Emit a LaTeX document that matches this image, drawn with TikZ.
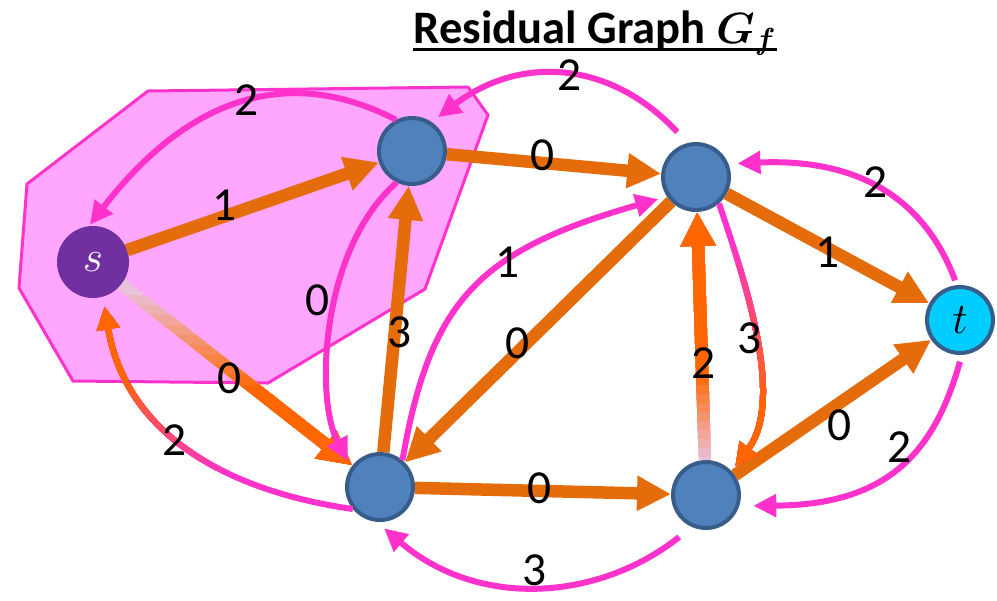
\documentclass[tikz,border=0pt]{standalone}
\usepackage{amsmath}
\usepackage{fontspec}
\setmainfont{Carlito}
\usetikzlibrary{arrows.meta}
\definecolor{flowor}{HTML}{E46C0A}
\definecolor{hotor}{HTML}{FF6600}
\definecolor{backpk}{HTML}{FF33CC}
\definecolor{paleline}{HTML}{E9C2DC}
\definecolor{vblue}{HTML}{4F81BD}
\definecolor{vedge}{HTML}{385D8A}
\definecolor{spurple}{HTML}{7030A0}
\definecolor{tcyan}{HTML}{00CCFF}
\definecolor{cutfill}{HTML}{FFA6FF}
\tikzset{
  > = {Triangle[length = 0.68cm, width = 0.66cm]},
  flow/.style = {->, draw = flowor, line width = 0.25cm},
  back/.style = {-{Triangle[length = 0.46cm, width = 0.44cm]}, draw = backpk, line width = 0.12cm},
  vertex/.style = {circle, draw = vedge, line width = 0.08cm, fill = vblue, minimum size = 1.32cm, inner sep = 0pt},
  weight/.style = {font = \fontsize{27}{27}\selectfont, inner sep = 0pt},
  title/.style = {font = \fontsize{26.5}{26.5}\selectfont\bfseries, inner sep = 0pt, anchor = base},
}

\begin{document}
\begin{tikzpicture}[x = 0.02cm, y = -0.02cm]
  \useasboundingbox (0,0) rectangle (997,600);
  % cut
  \draw [draw = backpk, line width = 0.06cm, fill = cutfill] (148,91) -- (468,87) -- (488,115) -- (425,289)
    -- (268,383) -- (73,381) -- (19,288) -- (27,184) -- cycle;
  % nodes
  \node [vertex, fill = spurple, draw = none, outer sep = 0pt, minimum size = 1.44cm, text = white,
    font = \fontsize{30}{30}\selectfont] (s) at (93,262) {$s$};
  \node [vertex] (a) at (412,151) {};
  \node [vertex] (b) at (696,177) {};
  \node [vertex] (c) at (380,487) {};
  \node [vertex] (d) at (706,495) {};
  \node [vertex, fill = tcyan, font = \fontsize{28}{28}\selectfont] (t) at (960,320) {$t$};
  \node [title] (title) at (595,43) {Residual Graph $\boldsymbol{G_f}$};
  \draw [line width = 0.06cm] ([yshift = -0.12cm] title.base west) -- ([yshift = -0.12cm] title.base east);
  % forward edges
  \draw [flow] (s) -- (a);
  \draw [flow] (a) -- (b);
  \draw [flow] (b) -- (t);
  \draw [flow] (c) -- (a);
  \draw [flow] (b) -- (c);
  \draw [flow] (c) -- (d);
  \draw [flow] (d) -- (t);
  \draw [flow, draw = paleline] (s) -- (c);
  \foreach \k in {1,...,10} {
    \begin{scope}
      \clip (0,{285+10*\k}) rectangle (997,600);
      \draw [flow, draw = hotor!\k0!paleline] (s) -- (c);
    \end{scope}
  }
  \draw [flow, draw = paleline] (d) -- (b);
  \foreach \k in {1,...,10} {
    \begin{scope}
      \clip (0,{465-9*\k}) rectangle (997,0);
      \draw [flow, draw = hotor!\k0!paleline] (d) -- (b);
    \end{scope}
  }
  % backward edges
  \draw [back, shorten >= 0.04cm] (a.117) .. controls (300,70) and (198,85) .. (s.97);
  \draw [back, shorten <= 0.3cm, shorten >= 0.16cm] (b.104) .. controls (610,60) and (520,55) .. (a.56);
  \draw [back, shorten <= 0.1cm, shorten >= 0.18cm] (t.95) .. controls (925,200) and (860,158) .. (b.22);
  \draw [back, shorten >= 0.14cm] (a.244) .. controls (320,250) and (315,400) .. (c.145);
  \draw [back, shorten >= 0.18cm] (c.50) .. controls (430,300) and (480,250) .. (b.214);
  \draw [back, shorten <= 0.14cm, shorten >= 0.28cm] (t.-87) .. controls (935,450) and (890,505) .. (d.-18);
  \draw [back, shorten <= 0.32cm, shorten >= 0.2cm] (d.246) .. controls (600,600) and (480,610) .. (c.264);
  \draw [back, shorten >= 0.12cm] (b.-49) .. controls (745,280) and (785,400) .. (d.43);
  \foreach \k in {1,...,10} {
    \begin{scope}
      \clip (0,{230+17*\k}) rectangle (997,600);
      \draw [back, draw = hotor!\k0!backpk, shorten >= 0.12cm] (b.-49) .. controls (745,280) and (785,400) .. (d.43);
    \end{scope}
  }
  \draw [back, shorten >= 0.2cm] (c.219) .. controls (220,490) and (125,430) .. (s.286);
  \foreach \k in {1,...,10} {
    \begin{scope}
      \clip (0,{480-10*\k}) rectangle (997,0);
      \draw [back, draw = hotor!\k0!backpk, shorten >= 0.2cm] (c.219) .. controls (220,490) and (125,430) .. (s.286);
    \end{scope}
  }
  % weights
  \node [weight] (wsa) at (225,205) {1};
  \node [weight] (wab) at (543,155) {0};
  \node [weight] (wbt) at (828,252) {1};
  \node [weight] (wca) at (400,332) {3};
  \node [weight] (wbc) at (518,343) {0};
  \node [weight] (wsc) at (230,378) {0};
  \node [weight] (wcd) at (540,488) {0};
  \node [weight] (wdt) at (840,425) {0};
  \node [weight] (wdb) at (704,363) {2};
  \node [weight] (was) at (247,100) {2};
  \node [weight] (wba) at (570,75) {2};
  \node [weight] (wtb) at (876,182) {2};
  \node [weight] (wac) at (318,300) {0};
  \node [weight] (wcb) at (508,262) {1};
  \node [weight] (wbd) at (750,338) {3};
  \node [weight] (wtd) at (900,447) {2};
  \node [weight] (wdc) at (535,570) {3};
  \node [weight] (wcs) at (175,440) {2};
\end{tikzpicture}
\end{document}
